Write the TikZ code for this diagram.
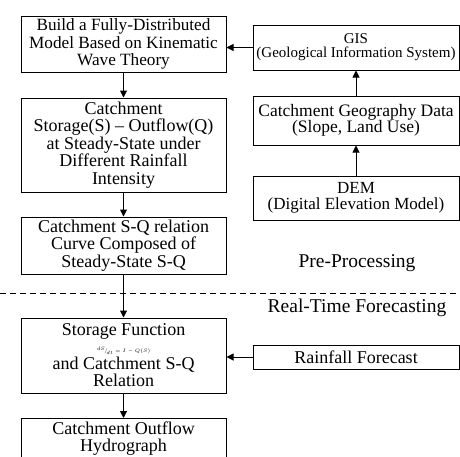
\documentclass[tikz,border=0pt]{standalone}
\usepackage{fontspec}
\setmainfont{Liberation Serif}
\usetikzlibrary{arrows.meta}

\begin{document}
\begin{tikzpicture}[x=1pt,y=-1pt,
  box/.style={draw,line width=1pt,align=center,inner sep=0pt,minimum width=205pt},
  rbox/.style={box,minimum width=206pt},
  arr/.style={line width=1pt,-{Triangle[length=7pt,width=7pt]}},
  big/.style={font=\fontsize{18}{17.6}\selectfont},
  mid/.style={font=\fontsize{17.5}{16}\selectfont},
  sml/.style={font=\fontsize{15}{14}\selectfont},
  lbl/.style={font=\fontsize{19.5}{20}\selectfont}]
\useasboundingbox (0,0) rectangle (460,456);
% pre-processing side
\node[box,font=\fontsize{17.2}{17.8}\selectfont,minimum height=56pt] (model) at (123.5,44) {Build a Fully-Distributed\\Model Based on Kinematic\\Wave Theory};
\node[box,big,minimum height=94pt] (steady) at (123.5,145) {Catchment\\Storage(S) -- Outflow(Q)\\at Steady-State under\\Different Rainfall\\Intensity};
\node[box,big,minimum height=57pt] (curve) at (123.5,245.5) {Catchment S-Q relation\\Curve Composed of\\Steady-State S-Q};
\node[rbox,sml,minimum height=45pt] (gis) at (356,47.5) {GIS\\(Geological Information System)};
\node[rbox,mid,minimum height=49pt] (geo) at (356,120.5) {Catchment Geography Data\\(Slope, Land Use)};
\node[rbox,font=\fontsize{17}{15.5}\selectfont,minimum height=44pt] (dem) at (356,198) {DEM\\(Digital Elevation Model)};
\node[lbl] (pre) at (357,263) {Pre-Processing};
% forecasting side
\coordinate (cutL) at (0,293);
\coordinate (cutR) at (460,293);
\draw[dashed,line width=1pt,dash pattern=on 6pt off 4pt] (cutL) -- (cutR);
\node[lbl] (real) at (357,308) {Real-Time Forecasting};
\node[box,big,minimum height=75pt] (storage) at (123.5,355.5) {Storage Function\\[-1pt]{\fontsize{5}{6}\selectfont$^{dS}\!/_{\!dt}=I-Q(S)$}\\[-1pt]and Catchment S-Q\\Relation};
\node[box,big,minimum height=40pt,anchor=north] (outflow) at (123.5,418) {Catchment Outflow\\Hydrograph};
\node[rbox,big,minimum height=24pt] (rain) at (356,357) {Rainfall Forecast};
% arrows
\draw[arr] (model) -- (steady);
\draw[arr] (steady) -- (curve);
\draw[arr] (curve) -- (storage);
\draw[arr] (storage) -- (outflow);
\draw[arr] (dem) -- (geo);
\draw[arr] (geo) -- (gis);
\draw[arr] (gis.west) -- (gis.west -| model.east);
\draw[arr] (rain.west) -- (rain.west -| storage.east);
\end{tikzpicture}
\end{document}
